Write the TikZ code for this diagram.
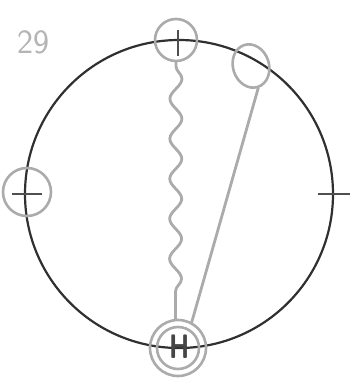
\documentclass[tikz,border=0pt]{standalone}
\usetikzlibrary{decorations.pathmorphing,shapes.geometric}
\definecolor{pencil}{HTML}{ABABAB}
\definecolor{ink}{HTML}{303030}
\tikzset{
  bigcirc/.style={draw=ink, line width=2.2pt},
  smallcirc/.style={circle, draw=pencil, line width=2.6pt, inner sep=0pt},
  tick/.style={draw=ink!85, line width=1.4pt},
  pline/.style={draw=pencil, line width=2.8pt, line cap=round, line join=round},
}
\begin{document}
\begin{tikzpicture}[x=1pt,y=-1pt]
\useasboundingbox (0,0) rectangle (359,383);
% label
\node[text=pencil!90, font=\sffamily\fontsize{34}{34}\selectfont] (lbl) at (33,42) {29};
% main circle
\node[circle, bigcirc, minimum size=308pt, inner sep=0pt] (main) at (179,194) {};
% small circles
\node[smallcirc, minimum size=42pt] (top) at (176,40) {};
\node[smallcirc, minimum size=48pt] (left) at (27,192) {};
\node[ellipse, draw=pencil, line width=2.6pt, inner sep=0pt, minimum width=36pt, minimum height=44pt, rotate=18] (ur) at (251,66) {};
\node[smallcirc, minimum size=56pt] (botout) at (178,348) {};
\node[smallcirc, minimum size=42pt] (botin) at (178,348) {};
\node[text=ink!90, font=\sffamily\bfseries\fontsize{34}{34}\selectfont, xscale=0.75] (H) at (180,347) {H};
% ticks
\draw[tick] (178,30) -- (178,56);
\draw[tick] (12,194) -- (42,194);
\draw[tick] (318,194) -- (350,194);
% connectors
\draw[pline, decorate, decoration={snake, amplitude=6pt, segment length=40pt, pre length=4pt, post length=8pt}] (top.south) -- (botout.95);
\draw[pline] (ur.south) -- (botout.62);
\end{tikzpicture}
\end{document}
